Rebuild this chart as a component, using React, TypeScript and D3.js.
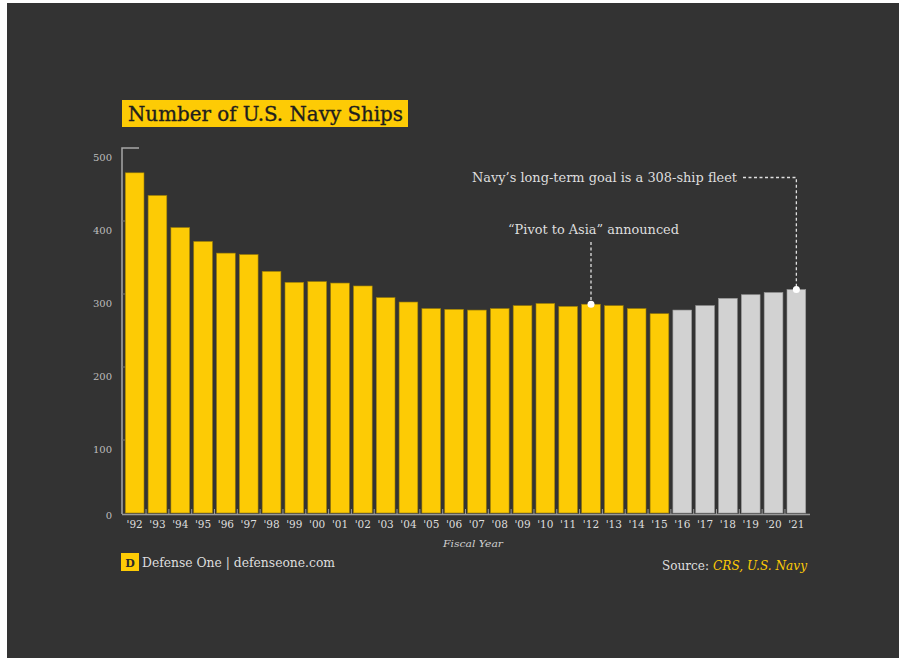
import React from "react";
import * as d3 from "d3";

const actualYears = ["'92","'93","'94","'95","'96","'97","'98","'99","'00","'01","'02","'03","'04","'05","'06","'07","'08","'09","'10","'11","'12","'13","'14","'15"];
const actualShips = [466,435,391,372,356,354,331,316,317,315,311,295,289,280,279,278,280,284,287,283,286,284,280,273];
const projectedYears = ["'16","'17","'18","'19","'20","'21"];
const projectedShips = [278,284,294,299,302,306];
const yTicks = [0,100,200,300,400,500];

const title = "Number of U.S. Navy Ships";
const goalNote = "Navy\u2019s long-term goal is a 308-ship fleet";
const pivotNote = "\u201CPivot to Asia\u201D announced";
const pivotYear = "'12";
const goalYear = "'21";

const W = 899, H = 658;
const SERIF = "'DejaVu Serif', serif";
const YELLOW = "#fdcb05";
const GRAY = "#d2d2d2";
const TEXT = "#dedede";

export default function App() {
  const data = [
    ...actualYears.map((y, i) => ({ year: y, v: actualShips[i], proj: false })),
    ...projectedYears.map((y, i) => ({ year: y, v: projectedShips[i], proj: true })),
  ];
  const x = d3.scaleBand<string>().domain(data.map(d => d.year)).range([123, 808]).paddingInner(0.18).paddingOuter(0.1);
  const y = d3.scaleLinear().domain([0, 500]).range([513, 148]);
  const val = (yr: string) => data.find(d => d.year === yr)!.v;
  const cx = (yr: string) => (x(yr) as number) + x.bandwidth() / 2;

  const pivotX = cx(pivotYear), pivotY = y(val(pivotYear));
  const goalX = cx(goalYear), goalY = y(val(goalYear));

  return (
    <div style={{ position: "absolute", left: 0, top: 0 }}>
      <svg width={W} height={H} style={{ display: "block", background: "#fff" }}>
        <rect x={7} y={3} width={W - 7} height={H - 3} fill="#333333" />

        {/* title */}
        <rect x={122} y={100} width={286} height={27} fill={YELLOW} />
        <text x={128} y={121} fontFamily={SERIF} fontSize={20} fill="#1e1e1e" stroke="#1e1e1e" strokeWidth={0.35} textLength={275} lengthAdjust="spacingAndGlyphs">{title}</text>

        {/* y axis */}
        <path d={`M139,${y(500)}H122V514`} fill="none" stroke="#a8a8a8" strokeWidth={1.5} />
        {yTicks.map(t => (
          <g key={t}>
            {t > 0 && t < 500 && <line x1={122} x2={125} y1={y(t)} y2={y(t)} stroke="#777" strokeWidth={1} />}
            <text x={112} y={Math.min(y(t) + 13, y(0) + 6)} textAnchor="end" fontFamily={SERIF} fontSize={10} fill="#bdbdbd">{t}</text>
          </g>
        ))}

        {/* bars */}
        {data.map(d => (
          <rect key={d.year} x={x(d.year)} y={y(d.v)} width={x.bandwidth()} height={y(0) - y(d.v)}
            fill={d.proj ? GRAY : YELLOW} stroke={d.proj ? "#9a9a9a" : "#9c7e06"} strokeWidth={0.6} />
        ))}

        {/* x axis baseline */}
        <line x1={122} x2={810} y1={514.5} y2={514.5} stroke="#9a9a9a" strokeWidth={1.5} />
        {data.map((d, i) => i > 0 && (
          <line key={"t" + d.year} x1={(x(d.year) as number) - x.step() * 0.09} x2={(x(d.year) as number) - x.step() * 0.09}
            y1={514} y2={509} stroke="#9a9a9a" strokeWidth={1} />
        ))}
        {data.map(d => (
          <text key={"l" + d.year} x={cx(d.year)} y={528} textAnchor="middle" fontFamily={SERIF} fontSize={10.5} fill={TEXT}>{d.year}</text>
        ))}
        <text x={473} y={547} textAnchor="middle" fontFamily={SERIF} fontStyle="italic" fontSize={10} fill="#cfcfcf" textLength={60} lengthAdjust="spacingAndGlyphs">Fiscal Year</text>

        {/* annotations */}
        <text x={472} y={182} fontFamily={SERIF} fontSize={12.5} fill={TEXT} textLength={265} lengthAdjust="spacingAndGlyphs">{goalNote}</text>
        <path d={`M743,177.5H${goalX}V${goalY}`} fill="none" stroke="#e0e0e0" strokeWidth={1.3} strokeDasharray="3,2.5" />
        <circle cx={goalX} cy={goalY} r={3.5} fill="#fff" />

        <text x={508} y={234} fontFamily={SERIF} fontSize={12.5} fill={TEXT} textLength={171} lengthAdjust="spacingAndGlyphs">{pivotNote}</text>
        <line x1={pivotX} x2={pivotX} y1={242} y2={pivotY} stroke="#e0e0e0" strokeWidth={1.3} strokeDasharray="3,2.5" />
        <circle cx={pivotX} cy={pivotY} r={3.5} fill="#fff" />

        {/* footer */}
        <rect x={121} y={553} width={18} height={18} fill={YELLOW} />
        <text x={130} y={566.5} textAnchor="middle" fontFamily={SERIF} fontSize={11} fontWeight="bold" fill="#2a2a2a">D</text>
        <text x={142} y={567} fontFamily={SERIF} fontSize={12.5} fill={TEXT} textLength={193} lengthAdjust="spacingAndGlyphs">Defense One | defenseone.com</text>

        <text x={662} y={570} fontFamily={SERIF} fontSize={12.5} fill={TEXT} textLength={47} lengthAdjust="spacingAndGlyphs">Source:</text>
        <text x={713} y={570} fontFamily={SERIF} fontStyle="italic" fontSize={12.5} fill={YELLOW} textLength={94} lengthAdjust="spacingAndGlyphs">CRS, U.S. Navy</text>
      </svg>
    </div>
  );
}
